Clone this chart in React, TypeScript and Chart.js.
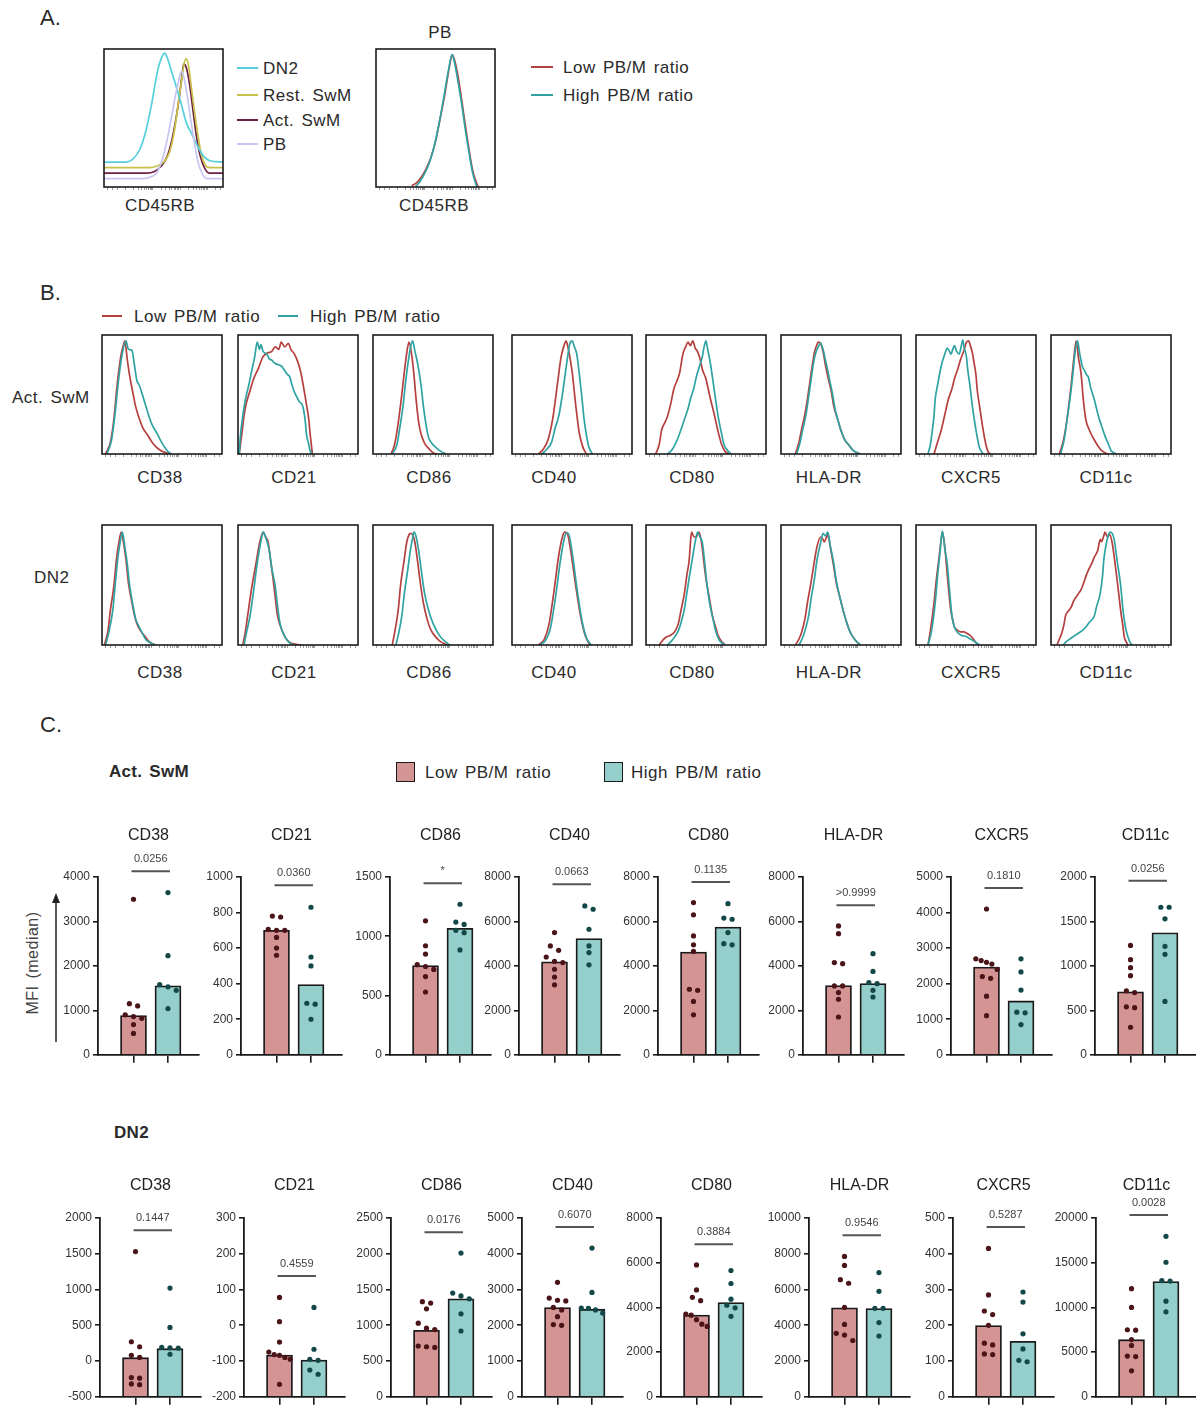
import React, { useEffect, useRef } from 'react';
import { Chart, registerables } from 'chart.js';

Chart.register(...registerables);
Chart.defaults.font.family = '"Liberation Sans", Arial, Helvetica, sans-serif';
Chart.defaults.color = '#2a2a2a';

// ================= DATA =================
// Panel A – CD45RB histograms (x: 0..100 across box, y: 0..100 of box height)
const aDN2 = [[0,18],[18,18],[24,20],[30,27],[35,40],[40,60],[45,84],[49,95],[51,97],[53,94],[57,83],[61,72],[65,60],[69,47],[74,38],[79,29],[84,22],[89,19],[100,18]];
const aRestSwM = [[0,14],[38,14],[44,15],[50,18],[55,25],[59,40],[62,58],[65,76],[67,88],[69,93],[71,88],[73,75],[76,55],[79,37],[82,23],[85,16],[89,14],[100,14]];
const aActSwM = [[0,10],[36,10],[42,11],[48,15],[53,22],[57,34],[61,52],[64,70],[66,84],[67,89],[69,87],[72,74],[75,54],[78,35],[81,22],[85,13],[89,10],[100,10]];
const aPB = [[0,6],[32,6],[38,7],[44,10],[49,20],[53,34],[57,52],[60,66],[63,78],[65,84],[67,80],[70,66],[73,48],[76,32],[79,18],[83,9],[87,6],[100,6]];
const aPBLow = [[30,1],[34,3],[38,7],[42,13],[46,21],[50,33],[54,50],[58,68],[61,84],[63,93],[64,96],[66,92],[69,80],[72,63],[75,45],[78,28],[81,13],[84,4],[86,0]];
const aPBHigh = [[33,0],[37,4],[41,10],[45,18],[49,30],[53,46],[57,65],[61,85],[64,96],[66,90],[69,76],[72,60],[75,42],[78,26],[81,11],[84,2],[85,0]];

const markers = ['CD38', 'CD21', 'CD86', 'CD40', 'CD80', 'HLA-DR', 'CXCR5', 'CD11c'];

// Panel B – Act. SwM histograms
const bActLow = [
  [[3,0],[7,10],[10,30],[12,52],[14,70],[16,84],[18,92],[19,95],[21,80],[23,66],[26,50],[28,40],[31,30],[34,22],[38,16],[41,11],[45,6],[49,3],[56,0]],
  [[1,0],[3,15],[5,32],[7,43],[10,53],[13,63],[17,72],[21,82],[25,85],[28,86],[31,90],[34,88],[36,94],[39,90],[42,93],[44,88],[47,84],[50,77],[52,70],[54,60],[55,54],[57,42],[59,29],[60,18],[61,9],[62,0]],
  [[15,0],[18,8],[21,26],[24,50],[26,68],[28,84],[30,94],[32,85],[34,68],[36,45],[38,27],[40,17],[43,9],[47,4],[50,1],[53,0]],
  [[22,0],[26,4],[30,12],[34,30],[38,60],[41,82],[44,93],[45,95],[47,88],[50,70],[53,42],[56,18],[59,6],[62,0]],
  [[8,0],[11,8],[13,20],[16,27],[18,32],[21,44],[23,54],[26,62],[28,68],[30,80],[31,85],[33,90],[35,94],[37,91],[39,95],[41,89],[43,86],[45,80],[47,71],[50,63],[52,54],[54,45],[56,37],[58,28],[61,15],[63,8],[66,2],[69,0]],
  [[12,0],[15,10],[17,20],[20,34],[22,46],[24,60],[26,74],[28,86],[30,92],[31,94],[33,93],[35,86],[37,75],[39,65],[42,52],[44,40],[47,30],[49,23],[51,17],[53,12],[57,7],[60,3],[66,0]],
  [[15,0],[18,10],[21,20],[24,33],[27,46],[30,55],[32,63],[35,72],[37,79],[40,87],[42,94],[44,95],[45,92],[47,85],[48,79],[50,66],[51,54],[53,40],[56,20],[58,9],[60,2],[62,0]],
  [[7,0],[10,10],[12,20],[15,42],[17,60],[19,80],[21,95],[23,80],[25,68],[27,45],[29,29],[32,20],[36,12],[39,7],[42,3],[47,0]],
];
const bActHigh = [
  [[4,0],[8,12],[11,35],[13,55],[15,72],[17,85],[20,95],[22,88],[25,87],[27,75],[29,62],[31,58],[33,52],[36,42],[39,32],[42,24],[46,17],[49,11],[52,6],[55,2],[58,0]],
  [[1,0],[2,15],[4,32],[6,45],[9,58],[11,68],[14,82],[16,94],[18,88],[19,92],[21,86],[24,84],[26,80],[28,79],[31,76],[34,75],[36,74],[39,70],[41,67],[43,65],[45,58],[47,52],[49,48],[51,44],[54,40],[56,28],[57,17],[59,8],[60,3],[62,0]],
  [[16,0],[20,8],[22,20],[25,40],[27,59],[29,75],[31,88],[33,95],[35,86],[37,77],[40,58],[42,40],[44,26],[46,15],[49,9],[53,5],[57,2],[61,0]],
  [[25,0],[29,4],[33,10],[36,22],[39,32],[42,50],[45,72],[47,86],[48,92],[50,95],[52,90],[54,84],[56,68],[58,50],[60,30],[62,16],[64,6],[67,0]],
  [[18,0],[22,4],[26,12],[29,20],[32,29],[35,38],[37,46],[40,56],[42,65],[44,72],[47,82],[48,88],[50,95],[51,90],[53,80],[54,74],[56,60],[58,46],[60,32],[63,17],[65,8],[68,3],[71,0]],
  [[13,0],[16,10],[18,20],[21,34],[23,48],[25,62],[27,76],[29,85],[31,90],[33,93],[35,88],[37,79],[39,70],[41,60],[43,50],[45,38],[47,30],[49,23],[51,17],[53,12],[57,7],[60,3],[66,0]],
  [[10,0],[12,8],[13,15],[15,32],[16,46],[18,58],[21,74],[24,84],[26,89],[28,86],[29,84],[31,89],[32,91],[34,86],[36,84],[38,92],[39,96],[40,90],[42,82],[43,72],[45,57],[47,40],[50,20],[52,9],[53,5],[56,0]],
  [[8,0],[11,12],[13,26],[16,48],[18,65],[20,85],[22,95],[24,84],[26,74],[28,70],[30,66],[31,65],[33,56],[36,46],[38,38],[40,30],[42,24],[45,15],[48,8],[50,3],[55,0]],
];
// Panel B – DN2 histograms
const bDn2Low = [
  [[2,0],[5,12],[7,29],[10,50],[12,71],[14,85],[16,94],[18,85],[20,71],[22,52],[25,35],[27,25],[29,18],[32,12],[36,7],[39,3],[42,1],[45,0]],
  [[4,0],[6,10],[8,24],[11,45],[15,68],[18,85],[21,94],[23,90],[25,86],[27,72],[29,57],[31,40],[33,24],[36,14],[39,7],[42,3],[46,1],[54,0]],
  [[16,0],[18,10],[21,29],[23,50],[26,71],[28,85],[30,92],[31,93],[33,92],[35,85],[37,71],[39,55],[42,35],[45,22],[48,13],[52,7],[56,3],[62,0]],
  [[22,0],[27,5],[31,18],[35,45],[39,75],[42,90],[44,94],[46,93],[49,78],[53,50],[57,25],[61,8],[65,0]],
  [[11,0],[14,4],[16,6],[20,8],[23,10],[25,13],[27,18],[29,28],[32,43],[34,58],[36,71],[37,85],[38,94],[40,90],[42,90],[44,94],[45,92],[47,80],[48,71],[50,55],[53,38],[55,26],[58,15],[60,8],[63,3],[66,0]],
  [[12,0],[15,5],[17,10],[20,22],[22,35],[25,52],[28,71],[30,82],[33,90],[35,88],[36,86],[38,90],[39,92],[41,82],[44,65],[46,52],[49,40],[52,28],[55,18],[58,10],[62,4],[66,0]],
  [[10,0],[12,12],[15,35],[17,55],[19,71],[21,88],[22,94],[24,82],[25,71],[27,48],[29,29],[31,19],[32,15],[35,12],[37,11],[40,11],[42,10],[45,8],[47,6],[50,2],[52,0]],
  [[5,0],[7,5],[9,10],[11,18],[12,24],[15,29],[17,32],[19,37],[21,40],[23,43],[25,46],[27,51],[29,57],[31,62],[34,68],[36,73],[39,79],[41,88],[42,86],[44,91],[45,94],[47,90],[49,92],[51,85],[53,71],[55,55],[57,38],[58,29],[60,15],[61,7],[63,2],[64,0]],
];
const bDn2High = [
  [[3,0],[6,12],[9,29],[11,50],[13,71],[15,85],[17,94],[19,82],[21,68],[23,50],[26,32],[28,22],[31,15],[34,9],[37,4],[40,2],[44,0]],
  [[5,0],[7,10],[10,24],[13,45],[16,68],[19,86],[21,94],[23,90],[26,79],[28,65],[31,49],[33,32],[35,18],[38,9],[41,4],[44,1],[47,0]],
  [[19,0],[21,8],[24,24],[26,42],[29,63],[31,78],[33,89],[34,94],[36,90],[38,79],[40,64],[43,43],[46,30],[50,18],[53,12],[56,7],[60,3],[64,0]],
  [[23,0],[28,4],[32,14],[36,38],[40,68],[43,86],[45,93],[47,93],[50,78],[54,48],[58,22],[62,6],[66,0]],
  [[18,0],[21,3],[24,7],[27,12],[29,18],[32,30],[34,43],[36,56],[39,74],[41,86],[43,94],[45,90],[47,85],[49,68],[51,49],[53,35],[56,21],[58,12],[61,4],[64,1],[66,0]],
  [[15,0],[18,6],[20,12],[23,24],[25,38],[28,56],[30,71],[33,85],[35,93],[37,91],[39,94],[41,83],[44,68],[46,54],[49,40],[52,28],[55,18],[58,10],[62,4],[66,0]],
  [[10,0],[13,12],[16,35],[18,58],[20,77],[22,95],[24,80],[26,68],[28,45],[30,24],[32,15],[35,10],[38,8],[42,7],[45,5],[47,4],[50,2],[53,0]],
  [[10,0],[13,3],[17,6],[20,8],[23,10],[26,12],[29,15],[32,19],[36,24],[38,32],[41,43],[43,58],[44,71],[46,84],[48,92],[49,94],[51,93],[53,86],[55,71],[58,50],[60,29],[62,15],[64,7],[66,2],[68,0]],
];

// Panel C – Act. SwM MFI (median)
const actLowDots = [
  [3500, 1150, 1100, 900, 860, 820, 680, 480],
  [780, 775, 705, 700, 700, 660, 600, 560],
  [1130, 920, 850, 760, 745, 720, 660, 530],
  [5500, 4900, 4700, 4400, 4200, 4150, 3850, 3500, 3150],
  [6850, 6300, 5350, 4950, 4650, 2950, 2900, 2400, 1800],
  [5800, 5450, 4150, 4100, 3100, 3100, 2800, 2500, 1700],
  [4100, 2700, 2650, 2600, 2550, 2400, 2200, 2150, 1650, 1100],
  [1230, 1070, 980, 890, 720, 700, 540, 530, 310],
];
const actHighDots = [
  [3650, 2230, 1580, 1530, 1450, 1040],
  [830, 550, 500, 290, 285, 200],
  [1270, 1120, 1100, 1050, 1030, 885],
  [6700, 6550, 5650, 4900, 4600, 4050],
  [6800, 6150, 6100, 5500, 5000, 4950],
  [4550, 3750, 3250, 3200, 2900, 2600],
  [2700, 2330, 1820, 1200, 1180, 850],
  [1660, 1660, 1530, 1220, 1130, 600],
];
const actLowBar = [885, 700, 753, 4180, 4620, 3115, 2470, 709];
const actHighBar = [1550, 395, 1067, 5230, 5750, 3205, 1515, 1373];
const actPText = ['0.0256', '0.0360', '*', '0.0663', '0.1135', '>0.9999', '0.1810', '0.0256'];
const actPLevel = [4130, 953, 1447, 7670, 7780, 6730, 4690, 1957];
const actYMin = [0, 0, 0, 0, 0, 0, 0, 0];
const actYMax = [4000, 1000, 1500, 8000, 8000, 8000, 5000, 2000];
const actYStep = [1000, 200, 500, 2000, 2000, 2000, 1000, 500];

// Panel C – DN2 MFI (median)
const dn2LowDots = [
  [1530, 270, 200, 80, 50, -230, -240, -320, -330],
  [78, 10, -47, -75, -82, -84, -90, -95, -165],
  [1330, 1310, 1230, 1030, 960, 940, 710, 700, 690],
  [3200, 2760, 2700, 2680, 2500, 2430, 2240, 2020, 2000],
  [5900, 4780, 4450, 4300, 3700, 3650, 3450, 3250, 3150],
  [7850, 7350, 6550, 6350, 5000, 4050, 3550, 3450, 3150],
  [415, 285, 240, 230, 200, 150, 145, 120, 118],
  [12100, 10000, 7500, 7450, 6400, 5750, 4550, 4500, 2900],
];
const dn2HighDots = [
  [1020, 470, 190, 185, 180, 95],
  [50, -67, -95, -98, -125, -137],
  [2010, 1450, 1410, 1370, 1160, 920],
  [4160, 2920, 2480, 2470, 2430, 2340],
  [5650, 5070, 4370, 4100, 3980, 3600],
  [6950, 5900, 4950, 4950, 4150, 3400],
  [293, 265, 176, 134, 102, 98],
  [17950, 15050, 13000, 12950, 10700, 9500],
];
const dn2LowBar = [47, -83, 930, 2495, 3660, 4980, 199, 6390];
const dn2HighBar = [173, -97, 1370, 2450, 4220, 4940, 155, 12900];
const dn2PText = ['0.1447', '0.4559', '0.0176', '0.6070', '0.3884', '0.9546', '0.5287', '0.0028'];
const dn2PLevel = [1830, 138, 2300, 4750, 6820, 9030, 475, 20330];
const dn2YMin = [-500, -200, 0, 0, 0, 0, 0, 0];
const dn2YMax = [2000, 300, 2500, 5000, 8000, 10000, 500, 20000];
const dn2YStep = [500, 100, 500, 1000, 2000, 2000, 100, 5000];

// ================= STYLE =================
const RED = '#b5403f';
const TEAL = '#2fa3a3';
const PINK_BAR = '#d49494';
const TEAL_BAR = '#95cfcb';
const LOW_DOT = '#4a1418';
const HIGH_DOT = '#144848';
const INK = '#2a2a2a';

// log-like minor tick positions under the histogram boxes (styling only)
const HIST_TICKS: number[] = (() => {
  const out = [3, 7, 11];
  const lg = [0, 0.301, 0.477, 0.602, 0.699, 0.778, 0.845, 0.903, 0.954];
  [18, 41, 64, 87].forEach((d) => lg.forEach((l) => { const v = d + 23 * l; if (v <= 100) out.push(v); }));
  return out;
})();

const boxPlugin = {
  id: 'boxBorder',
  afterDraw(c: any) {
    const { ctx, chartArea: a } = c;
    ctx.save();
    ctx.strokeStyle = '#1c1c1c';
    ctx.lineWidth = 1.6;
    ctx.strokeRect(a.left, a.top, a.right - a.left, a.bottom - a.top);
    ctx.restore();
  },
};

function histConfig(curves: { pts: number[][]; color: string }[]) {
  return {
    type: 'line',
    data: {
      datasets: curves.map((c) => ({
        data: c.pts.map(([x, y]) => ({ x, y })),
        borderColor: c.color,
        borderWidth: 1.7,
        pointRadius: 0,
        fill: false,
        cubicInterpolationMode: 'monotone',
      })),
    },
    options: {
      responsive: false,
      animation: false,
      events: [],
      layout: { padding: { top: 2, left: 2, right: 2, bottom: 0 } },
      plugins: { legend: { display: false }, tooltip: { enabled: false } },
      scales: {
        x: {
          type: 'linear', min: 0, max: 100,
          afterBuildTicks: (s: any) => { s.ticks = HIST_TICKS.map((v) => ({ value: v })); },
          ticks: { display: false },
          grid: { drawOnChartArea: false, tickLength: 3, color: '#9c9c9c', lineWidth: 1 },
          border: { display: false },
          afterFit: (s: any) => { s.height = 6; },
        },
        y: { display: false, min: 0, max: 100 },
      },
    },
    plugins: [boxPlugin],
  };
}

function swarm(vals: number[], gx: number, thr: number) {
  const idx = vals.map((_, i) => i).sort((a, b) => vals[b] - vals[a]);
  const clusters: number[][] = [];
  let cur: number[] = [];
  idx.forEach((i) => {
    if (cur.length && Math.abs(vals[cur[cur.length - 1]] - vals[i]) > thr) { clusters.push(cur); cur = []; }
    cur.push(i);
  });
  if (cur.length) clusters.push(cur);
  const out: { x: number; y: number }[] = [];
  clusters.forEach((c) => {
    const sp = c.length > 1 ? Math.min(0.24, 0.62 / (c.length - 1)) : 0;
    c.forEach((i, k) => out.push({ x: gx + (k - (c.length - 1) / 2) * sp, y: vals[i] }));
  });
  return out;
}

function barConfig(p: any) {
  const { title, low, high, lowBar, highBar, pText, pLevel, min, max, step, titleBottom } = p;
  const thr = (max - min) * 0.03;
  const pPlugin = {
    id: 'pval',
    afterDraw(c: any) {
      const { ctx } = c;
      const xs = c.scales.x, ys = c.scales.y;
      const x0 = xs.getPixelForValue(0), x1 = xs.getPixelForValue(1);
      const y = ys.getPixelForValue(pLevel);
      ctx.save();
      ctx.strokeStyle = '#555';
      ctx.lineWidth = 2;
      ctx.beginPath();
      ctx.moveTo(x0 - 2, y);
      ctx.lineTo(x1 + 2, y);
      ctx.stroke();
      ctx.fillStyle = '#444';
      ctx.font = '11px "Liberation Sans", Arial, sans-serif';
      ctx.textAlign = 'center';
      ctx.textBaseline = 'middle';
      ctx.fillText(pText, (x0 + x1) / 2, y - 12);
      ctx.restore();
    },
  };
  return {
    type: 'bar',
    data: {
      datasets: [
        {
          type: 'bar',
          data: [{ x: 0, y: lowBar }, { x: 1, y: highBar }],
          backgroundColor: [PINK_BAR, TEAL_BAR],
          borderColor: '#1a1a1a',
          borderWidth: 1.8,
          borderSkipped: 'start',
          barThickness: 26,
          base: min,
          order: 2,
        },
        { type: 'scatter', data: swarm(low, 0, thr), pointRadius: 2.6, backgroundColor: LOW_DOT, borderWidth: 0, order: 1 },
        { type: 'scatter', data: swarm(high, 1, thr), pointRadius: 2.6, backgroundColor: HIGH_DOT, borderWidth: 0, order: 1 },
      ],
    },
    options: {
      responsive: false,
      animation: false,
      events: [],
      layout: { padding: { left: 0, right: 4, top: 0, bottom: 0 } },
      plugins: {
        legend: { display: false },
        tooltip: { enabled: false },
        title: {
          display: true, text: title, fullSize: false, color: '#222',
          font: { size: 16, weight: 'normal', lineHeight: 1.2 },
          padding: { top: 6.4, bottom: titleBottom },
        },
      },
      scales: {
        x: {
          type: 'linear', min: -1.03, max: 1.9, offset: false,
          afterBuildTicks: (s: any) => { s.ticks = [{ value: 0 }, { value: 1 }]; },
          ticks: { display: false },
          grid: { offset: false, drawOnChartArea: false, tickLength: 8, color: '#1a1a1a', lineWidth: 1.6 },
          border: { color: '#1a1a1a', width: 1.8 },
          afterFit: (s: any) => { s.height = 10; },
        },
        y: {
          type: 'linear', min, max,
          ticks: { stepSize: step, callback: (v: any) => String(v), font: { size: 12 }, color: '#333', padding: 3 },
          grid: { drawOnChartArea: false, tickLength: 5, color: '#1a1a1a', lineWidth: 1.6 },
          border: { color: '#1a1a1a', width: 1.8 },
          afterFit: (s: any) => { s.width = 44; },
        },
      },
    },
    plugins: [pPlugin],
  };
}

// ================= COMPONENTS =================
function ChartCanvas({ left, top, width, height, make }: any) {
  const ref = useRef<HTMLCanvasElement | null>(null);
  useEffect(() => {
    const chart = new Chart(ref.current as any, make() as any);
    return () => chart.destroy();
  }, []);
  return <canvas ref={ref} width={width} height={height} style={{ position: 'absolute', left, top, width, height }} />;
}

function T({ x, y, s = 17, c = INK, center = false, bold = false, ls = 0.5, ws = 2, children, rotate = false }: any) {
  return (
    <div
      style={{
        position: 'absolute', left: x, top: y,
        transform: rotate ? 'translate(-50%,-50%) rotate(-90deg)' : center ? 'translate(-50%,-50%)' : 'translateY(-50%)',
        fontSize: s, lineHeight: 1, whiteSpace: 'nowrap', color: c,
        fontWeight: bold ? 'bold' : 'normal', letterSpacing: ls, wordSpacing: ws,
      }}
    >
      {children}
    </div>
  );
}

function LegLine({ x1, x2, y, color }: any) {
  return <div style={{ position: 'absolute', left: x1, top: y - 1, width: x2 - x1, height: 2, background: color }} />;
}

function Hist({ x, y, w, h, curves }: any) {
  return <ChartCanvas left={x - 2} top={y - 2} width={w + 4} height={h + 8} make={() => histConfig(curves)} />;
}

const B_BOX_X = [102, 238, 373, 512, 646, 781, 916, 1051];
const B_LABEL_X = [160, 294, 429, 554, 692, 829, 971, 1106];
const C1_AXIS_X = [98, 241, 390, 519, 658, 803, 951, 1095];
const C2_AXIS_X = [100, 244, 391, 522, 661, 809, 953, 1096];

export default function App() {
  return (
    <div
      style={{
        position: 'absolute', left: 0, top: 0, width: 1196, height: 1405, overflow: 'hidden',
        background: '#fff', fontFamily: '"Liberation Sans", Arial, Helvetica, sans-serif', color: INK,
      }}
    >
      {/* ---------- Panel A ---------- */}
      <T x={40} y={18} s={22} ls={0}>A.</T>
      <Hist x={104} y={49} w={119} h={138} curves={[
        { pts: aPB, color: '#c6c6f0' },
        { pts: aDN2, color: '#55cfdc' },
        { pts: aRestSwM, color: '#c9c24a' },
        { pts: aActSwM, color: '#6e1f45' },
      ]} />
      <T x={160} y={205} center>CD45RB</T>
      <LegLine x1={237} x2={258} y={68} color="#55cfdc" />
      <T x={263} y={68}>DN2</T>
      <LegLine x1={237} x2={258} y={95} color="#c9c24a" />
      <T x={263} y={95}>Rest. SwM</T>
      <LegLine x1={237} x2={258} y={120} color="#6e1f45" />
      <T x={263} y={120}>Act. SwM</T>
      <LegLine x1={237} x2={258} y={144} color="#c6c6f0" />
      <T x={263} y={144}>PB</T>

      <T x={440} y={32} center>PB</T>
      <Hist x={376} y={49} w={119} h={138} curves={[
        { pts: aPBHigh, color: TEAL },
        { pts: aPBLow, color: RED },
      ]} />
      <T x={434} y={205} center>CD45RB</T>
      <LegLine x1={531} x2={553} y={67} color={RED} />
      <T x={563} y={67}>Low PB/M ratio</T>
      <LegLine x1={531} x2={553} y={95} color={TEAL} />
      <T x={563} y={95}>High PB/M ratio</T>

      {/* ---------- Panel B ---------- */}
      <T x={40} y={293} s={22} ls={0}>B.</T>
      <LegLine x1={102} x2={122} y={316} color={RED} />
      <T x={134} y={316}>Low PB/M ratio</T>
      <LegLine x1={278} x2={298} y={316} color={TEAL} />
      <T x={310} y={316}>High PB/M ratio</T>

      <T x={12} y={397}>Act. SwM</T>
      {markers.map((m, i) => (
        <React.Fragment key={'ba' + m}>
          <Hist x={B_BOX_X[i]} y={335} w={120} h={119} curves={[
            { pts: bActHigh[i], color: TEAL },
            { pts: bActLow[i], color: RED },
          ]} />
          <T x={B_LABEL_X[i]} y={477} center>{m}</T>
        </React.Fragment>
      ))}

      <T x={34} y={577}>DN2</T>
      {markers.map((m, i) => (
        <React.Fragment key={'bd' + m}>
          <Hist x={B_BOX_X[i]} y={525} w={120} h={120} curves={[
            { pts: bDn2High[i], color: TEAL },
            { pts: bDn2Low[i], color: RED },
          ]} />
          <T x={B_LABEL_X[i]} y={672} center>{m}</T>
        </React.Fragment>
      ))}

      {/* ---------- Panel C ---------- */}
      <T x={40} y={725} s={22} ls={0}>C.</T>
      <T x={109} y={771} bold ls={0.3}>Act. SwM</T>
      <div style={{ position: 'absolute', left: 396, top: 762, width: 17, height: 18, background: PINK_BAR, border: '1.5px solid #1a1a1a' }} />
      <T x={425} y={772}>Low PB/M ratio</T>
      <div style={{ position: 'absolute', left: 604, top: 762, width: 17, height: 18, background: TEAL_BAR, border: '1.5px solid #1a1a1a' }} />
      <T x={631} y={772}>High PB/M ratio</T>

      <T x={33} y={963} s={16} c="#444" rotate>MFI (median)</T>
      <svg style={{ position: 'absolute', left: 46, top: 888, width: 20, height: 160 }} width={20} height={160}>
        <line x1={10} y1={154} x2={10} y2={10} stroke="#222" strokeWidth={1.5} />
        <polygon points="6,15 14,15 10,5" fill="#222" />
      </svg>

      {markers.map((m, i) => (
        <ChartCanvas
          key={'ca' + m}
          left={C1_AXIS_X[i] - 44} top={820} width={149} height={245}
          make={() => barConfig({
            title: m, low: actLowDots[i], high: actHighDots[i], lowBar: actLowBar[i], highBar: actHighBar[i],
            pText: actPText[i], pLevel: actPLevel[i], min: actYMin[i], max: actYMax[i], step: actYStep[i], titleBottom: 31.4,
          })}
        />
      ))}

      <T x={114} y={1132} bold ls={0.3}>DN2</T>
      {markers.map((m, i) => (
        <ChartCanvas
          key={'cd' + m}
          left={C2_AXIS_X[i] - 44} top={1170} width={149} height={237}
          make={() => barConfig({
            title: m, low: dn2LowDots[i], high: dn2HighDots[i], lowBar: dn2LowBar[i], highBar: dn2HighBar[i],
            pText: dn2PText[i], pLevel: dn2PLevel[i], min: dn2YMin[i], max: dn2YMax[i], step: dn2YStep[i], titleBottom: 22.4,
          })}
        />
      ))}
    </div>
  );
}
